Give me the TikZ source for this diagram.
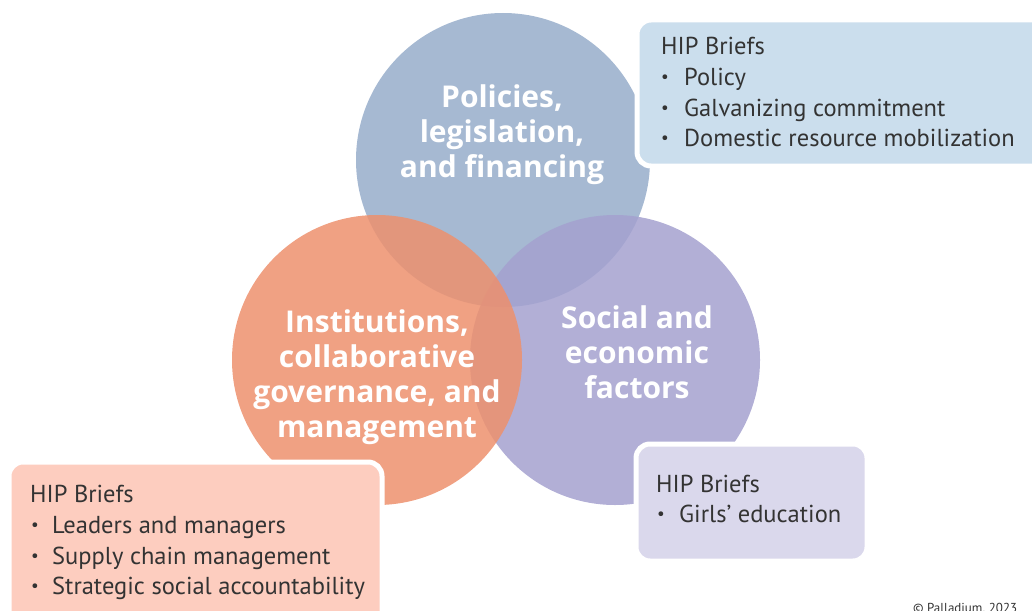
\documentclass[tikz,border=0pt]{standalone}
\usepackage{fontspec}
\setmainfont{PT Sans}
\newfontfamily\circfont{Open Sans}
\definecolor{cblue}{RGB}{166,185,210}
\definecolor{corange}{RGB}{237,144,109}
\definecolor{cpurple}{RGB}{164,161,207}
\definecolor{bblue}{RGB}{203,222,237}
\definecolor{borange}{RGB}{253,205,191}
\definecolor{bpurple}{RGB}{218,216,236}
\definecolor{tgray}{RGB}{51,51,51}
\begin{document}
\begin{tikzpicture}[x=1pt,y=-1pt,
  circ/.style={circle,inner sep=0pt,minimum size=#1},
  ctext/.style={anchor=base,text=white,font=\circfont\fontsize{30}{35}\selectfont\bfseries,inner sep=0pt},
  btext/.style={anchor=base west,text=tgray,font=\fontsize{24.5}{30}\selectfont,inner sep=0pt},
  bullet/.style={anchor=base west,text=tgray,font=\fontsize{17}{20}\selectfont,inner sep=0pt,yshift=2.5pt},
  hipbox/.style={draw=white,line width=5pt,rounded corners=14pt}
]
\useasboundingbox (0,0) rectangle (1032,610);
\clip (0,0) rectangle (1032,610);
% circles
\fill[cblue] (503,160) circle[radius=147];
\fill[cpurple,opacity=0.85] (615,360) circle[radius=145];
\fill[corange,opacity=0.85] (377,360) circle[radius=145];
\node[circ=290pt] (cb) at (503,160) {};
\node[circ=290pt] (co) at (377,360) {};
\node[circ=290pt] (cp) at (615,360) {};
% circle labels
\node[ctext] (p1) at (502,107) {Policies,};
\node[ctext] (p2) at (502,142) {legislation,};
\node[ctext] (p3) at (502,177) {and financing};
\node[ctext] (o1) at (377,332) {Institutions,};
\node[ctext] (o2) at (377,367) {collaborative};
\node[ctext] (o3) at (377,402) {governance, and};
\node[ctext] (o4) at (377,437) {management};
\node[ctext] (s1) at (637,328) {Social and};
\node[ctext] (s2) at (637,363) {economic};
\node[ctext] (s3) at (637,398) {factors};
% boxes
\draw[hipbox,fill=bblue] (637,20) rectangle (1060,166);
\draw[hipbox,fill=borange] (9,462) rectangle (382,640);
\draw[hipbox,fill=bpurple] (636,444) rectangle (867,561);
% top-right box text
\node[btext] (ta) at (661,55) {HIP Briefs};
\node[bullet] (tb1) at (661,85) {•};
\node[btext] (tt1) at (684,85) {Policy};
\node[bullet] (tb2) at (661,116) {•};
\node[btext] (tt2) at (684,116) {Galvanizing commitment};
\node[bullet] (tb3) at (661,146) {•};
\node[btext] (tt3) at (684,146) {Domestic resource mobilization};
% bottom-left box text
\node[btext] (la) at (30,502) {HIP Briefs};
\node[bullet] (lb1) at (31,533) {•};
\node[btext] (lt1) at (52,533) {Leaders and managers};
\node[bullet] (lb2) at (31,564) {•};
\node[btext] (lt2) at (52,564) {Supply chain management};
\node[bullet] (lb3) at (31,594) {•};
\node[btext] (lt3) at (52,594) {Strategic social accountability};
% bottom-middle box text
\node[btext] (ma) at (656,492) {HIP Briefs};
\node[bullet] (mb1) at (657,522) {•};
\node[btext] (mt1) at (679,522) {Girls’ education};
% copyright
\node[anchor=base west,text=tgray,font=\fontsize{13}{15}\selectfont,inner sep=0pt] (copy) at (913,612) {© Palladium, 2023};
\end{tikzpicture}
\end{document}
